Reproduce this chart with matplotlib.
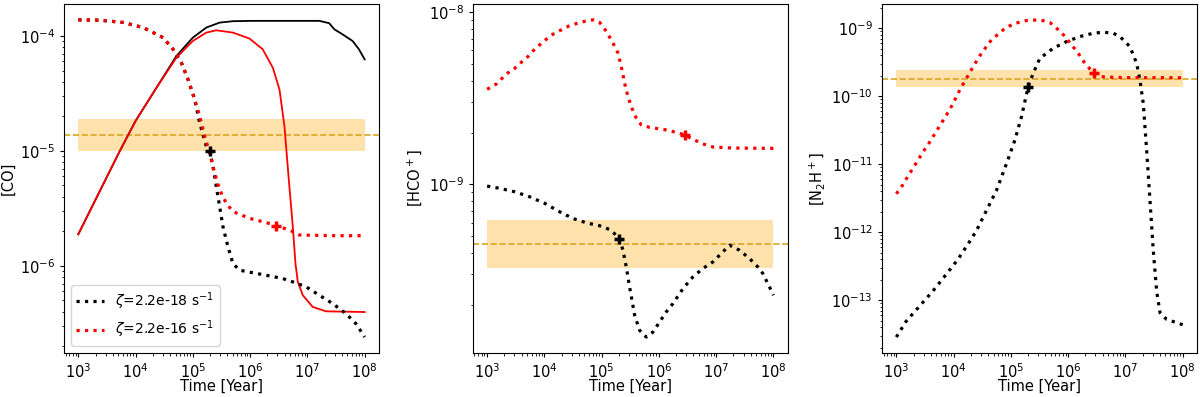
import numpy as np
import matplotlib
matplotlib.use("Agg")
import matplotlib.pyplot as plt
from matplotlib.ticker import NullFormatter

# ---------------- data (log10 values) ----------------
# Panel 1: CO
co_solid_red_logt = [3.0, 3.726, 4.0, 4.365, 4.713, 5.0, 5.236, 5.41, 5.70, 5.99, 6.22, 6.397,
                     6.513, 6.60, 6.676, 6.746, 6.792, 6.833, 6.92, 7.094, 7.326, 8.0]
co_solid_red_logy = [-5.726, -5.0, -4.74, -4.451, -4.189, -4.044, -3.971, -3.951, -3.971, -4.023,
                     -4.116, -4.277, -4.466, -4.786, -5.252, -5.659, -5.98, -6.14, -6.256, -6.358,
                     -6.396, -6.402]
co_solid_black_logt = [3.0, 3.726, 4.0, 4.365, 4.713, 5.0, 5.236, 5.468, 5.70, 6.0, 6.5, 7.0,
                       7.21, 7.38, 7.47, 7.61, 7.79, 7.90, 8.0]
co_solid_black_logy = [-5.726, -5.0, -4.74, -4.451, -4.175, -4.015, -3.927, -3.884, -3.872,
                       -3.869, -3.869, -3.869, -3.869, -3.889, -3.942, -3.985, -4.044, -4.116,
                       -4.204]
co_red_logt = [3.0, 3.377, 3.784, 4.132, 4.481, 4.655, 4.80, 4.916, 5.033, 5.12, 5.207, 5.294,
               5.381, 5.468, 5.584, 5.70, 5.99, 6.281, 6.455, 6.688, 6.862, 7.442, 8.0]
co_red_logy = [-3.860, -3.863, -3.883, -3.927, -4.015, -4.116, -4.233, -4.378, -4.553, -4.699,
               -4.873, -5.019, -5.194, -5.339, -5.456, -5.528, -5.587, -5.624, -5.651, -5.689,
               -5.732, -5.738, -5.738]
co_black_logt = [3.0, 3.377, 3.784, 4.132, 4.481, 4.655, 4.80, 4.916, 5.033, 5.12, 5.236, 5.294,
                 5.352, 5.41, 5.468, 5.526, 5.613, 5.70, 5.816, 6.049, 6.281, 6.571, 6.746,
                 6.978, 7.21, 7.442, 7.675, 7.849, 8.0]
co_black_logy = [-3.860, -3.863, -3.883, -3.927, -4.015, -4.116, -4.233, -4.378, -4.553, -4.757,
                 -4.961, -5.0, -5.135, -5.31, -5.485, -5.659, -5.834, -5.98, -6.038, -6.061,
                 -6.082, -6.111, -6.14, -6.183, -6.256, -6.329, -6.416, -6.504, -6.62]

# Panel 2: HCO+
hco_red_logt = [3.0, 3.163, 3.337, 3.483, 3.599, 3.715, 3.802, 3.919, 4.035, 4.151, 4.297,
                4.442, 4.587, 4.703, 4.849, 4.965, 5.081, 5.198, 5.285, 5.343, 5.401, 5.459,
                5.529, 5.605, 5.692, 5.837, 6.128, 6.36, 6.448, 6.593, 6.767, 6.942, 7.291, 8.0]
hco_red_logy = [-8.448, -8.417, -8.359, -8.326, -8.291, -8.258, -8.225, -8.19, -8.157, -8.128,
                -8.103, -8.078, -8.064, -8.054, -8.045, -8.06, -8.112, -8.18, -8.238, -8.316,
                -8.413, -8.49, -8.558, -8.616, -8.655, -8.669, -8.684, -8.703, -8.713, -8.738,
                -8.765, -8.783, -8.789, -8.791]
hco_black_logt = [3.0, 3.221, 3.483, 3.744, 4.006, 4.267, 4.5, 4.733, 4.965, 5.14, 5.256, 5.314,
                  5.372, 5.43, 5.477, 5.529, 5.576, 5.663, 5.779, 5.895, 6.012, 6.128, 6.244,
                  6.419, 6.593, 6.767, 6.942, 7.058, 7.233, 7.407, 7.581, 7.727, 7.814, 7.93, 8.0]
hco_black_logy = [-9.010, -9.023, -9.043, -9.072, -9.110, -9.159, -9.198, -9.223, -9.24, -9.262,
                  -9.295, -9.32, -9.382, -9.479, -9.576, -9.672, -9.76, -9.847, -9.886, -9.857,
                  -9.798, -9.74, -9.692, -9.605, -9.537, -9.488, -9.45, -9.411, -9.353, -9.382,
                  -9.43, -9.479, -9.517, -9.595, -9.643]

# Panel 3: N2H+
n2h_red_logt = [3.0, 3.087, 3.175, 3.321, 3.466, 3.583, 3.728, 3.874, 3.991, 4.107, 4.224, 4.34,
                4.486, 4.661, 4.865, 5.04, 5.273, 5.506, 5.681, 5.885, 6.03, 6.176, 6.293, 6.438,
                6.584, 6.788, 7.138, 8.0]
n2h_red_logy = [-11.435, -11.337, -11.214, -11.017, -10.82, -10.673, -10.476, -10.279, -10.107,
                -9.91, -9.738, -9.566, -9.369, -9.172, -9.025, -8.936, -8.887, -8.877, -8.916,
                -9.064, -9.212, -9.369, -9.517, -9.654, -9.713, -9.723, -9.728, -9.728]
n2h_black_logt = [3.0, 3.175, 3.408, 3.641, 3.874, 4.078, 4.253, 4.399, 4.573, 4.748, 4.923,
                  5.069, 5.185, 5.302, 5.389, 5.506, 5.739, 5.972, 6.205, 6.438, 6.613, 6.788,
                  6.904, 7.079, 7.196, 7.254, 7.312, 7.371, 7.429, 7.487, 7.545, 7.604, 7.72,
                  7.895, 8.0]
n2h_black_logy = [-13.541, -13.305, -13.084, -12.862, -12.616, -12.395, -12.173, -11.977,
                  -11.681, -11.386, -10.993, -10.648, -10.304, -9.861, -9.664, -9.443, -9.295,
                  -9.197, -9.123, -9.074, -9.059, -9.074, -9.123, -9.271, -9.517, -9.763,
                  -10.107, -10.796, -11.534, -12.272, -12.862, -13.182, -13.281, -13.33, -13.36]

# Observations: (lower, value, upper)
obs_co = (1.0e-5, 1.38e-5, 1.91e-5)
obs_hco = (3.27e-10, 4.5e-10, 6.18e-10)
obs_n2h = (1.37e-10, 1.82e-10, 2.41e-10)
band_t = (1e3, 1e8)

# best-fit markers (time, abundance)
mark_co = [(2e5, 1.0e-5), (2.8e6, 2.23e-6)]
mark_hco = [(2e5, 4.8e-10), (2.8e6, 1.94e-9)]
mark_n2h = [(2e5, 1.37e-10), (2.8e6, 2.2e-10)]

labels = [r"$\zeta$=2.2e-18 s$^{-1}$", r"$\zeta$=2.2e-16 s$^{-1}$"]
ylabels = ["[CO]", "[HCO$^+$]", "[N$_2$H$^+$]"]


def p(a):
    return 10 ** np.asarray(a)


plt.rcParams['font.family'] = ['DejaVu Sans']
plt.rcParams['font.size'] = 10

fig = plt.figure(figsize=(12, 3.97), dpi=100)
lefts = [0.0533, 0.394, 0.735]
w = 0.2625
axes = [fig.add_axes([l, 0.111, w, 0.879]) for l in lefts]

LW = 2.3

def obs(ax, o):
    ax.fill_between(band_t, o[0], o[2], color='orange', alpha=0.33, lw=0, zorder=0)
    ax.axhline(o[1], color='goldenrod', ls='--', lw=1.2, zorder=1)

def marks(ax, m):
    ax.plot(*m[0], marker='+', color='black', ms=7, mew=2.5, zorder=5)
    ax.plot(*m[1], marker='+', color='red', ms=7, mew=2.5, zorder=5)

# Panel 1
ax = axes[0]
obs(ax, obs_co)
ax.plot(p(co_solid_black_logt), p(co_solid_black_logy), color='black', lw=1.3)
ax.plot(p(co_solid_red_logt), p(co_solid_red_logy), color='red', lw=1.3)
l1, = ax.plot(p(co_black_logt), p(co_black_logy), color='black', ls=':', lw=LW, label=labels[0])
l2, = ax.plot(p(co_red_logt), p(co_red_logy), color='red', ls=':', lw=LW, label=labels[1])
marks(ax, mark_co)
ax.legend(loc='lower left', fontsize=10, handlelength=2.0)

# Panel 2
ax = axes[1]
obs(ax, obs_hco)
ax.plot(p(hco_black_logt), p(hco_black_logy), color='black', ls=':', lw=LW)
ax.plot(p(hco_red_logt), p(hco_red_logy), color='red', ls=':', lw=LW)
marks(ax, mark_hco)

# Panel 3
ax = axes[2]
obs(ax, obs_n2h)
ax.plot(p(n2h_black_logt), p(n2h_black_logy), color='black', ls=':', lw=LW)
ax.plot(p(n2h_red_logt), p(n2h_red_logy), color='red', ls=':', lw=LW)
marks(ax, mark_n2h)

for ax, yl in zip(axes, ylabels):
    ax.set_xscale('log')
    ax.set_yscale('log')
    ax.set_xlabel("Time [Year]", fontsize=10.5, labelpad=-1)
    ax.set_ylabel(yl, fontsize=10.5, labelpad=3)
    ax.set_xticks([1e3, 1e4, 1e5, 1e6, 1e7, 1e8])
    ax.xaxis.set_minor_formatter(NullFormatter())
    ax.yaxis.set_minor_formatter(NullFormatter())
    ax.tick_params(labelsize=10.5, length=3)
    ax.tick_params(which='minor', length=1.8)

fig.savefig("out.png", dpi=100)
